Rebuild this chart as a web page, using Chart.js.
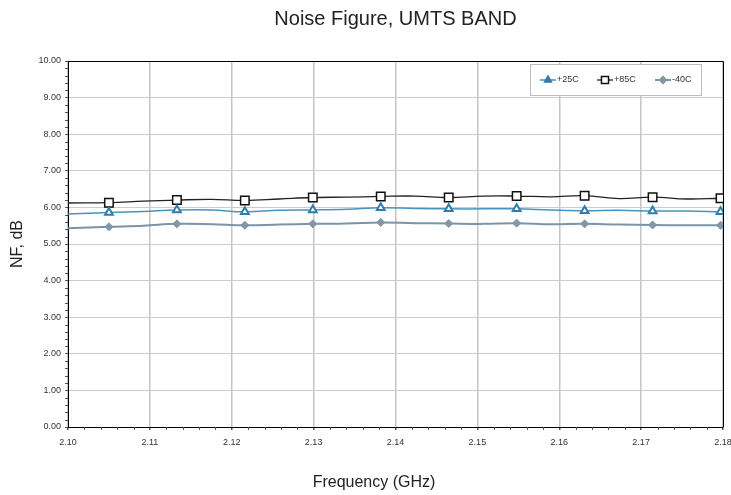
<!DOCTYPE html>
<html>
<head>
<meta charset="utf-8">
<title>Noise Figure, UMTS BAND</title>
<script src="https://cdn.jsdelivr.net/npm/chart.js@4.4.1/dist/chart.umd.min.js"></script>
<style>
  html, body { margin: 0; padding: 0; background: #fff; }
  #wrap { width: 731px; height: 495px; }
</style>
</head>
<body>
<div id="wrap"><canvas id="nfchart" width="731" height="495"></canvas></div>
<script>
// frequency points (GHz), markers sit on every odd index
var freq = [2.1000, 2.1050, 2.1092, 2.1133, 2.1175, 2.1216, 2.1258, 2.1299, 2.1341, 2.1382,
            2.1424, 2.1465, 2.1507, 2.1548, 2.1590, 2.1631, 2.1673, 2.1714, 2.1756, 2.1797, 2.1800];

var nf25 = [5.82, 5.86, 5.89, 5.93, 5.93, 5.88, 5.92, 5.93, 5.95, 5.99,
            5.97, 5.96, 5.96, 5.96, 5.93, 5.91, 5.92, 5.90, 5.90, 5.88, 5.88];
var nf85 = [6.12, 6.13, 6.17, 6.20, 6.22, 6.19, 6.23, 6.27, 6.28, 6.30,
            6.31, 6.27, 6.31, 6.31, 6.29, 6.32, 6.24, 6.28, 6.23, 6.25, 6.25];
var nfm40 = [5.43, 5.47, 5.50, 5.55, 5.54, 5.51, 5.53, 5.55, 5.56, 5.59,
             5.57, 5.56, 5.55, 5.57, 5.54, 5.55, 5.53, 5.52, 5.51, 5.51, 5.51];

var seriesNames = ["+25C", "+85C", "-40C"];
var xTicks = [2.10, 2.11, 2.12, 2.13, 2.14, 2.15, 2.16, 2.17, 2.18];
var yTicks = [0, 1, 2, 3, 4, 5, 6, 7, 8, 9, 10];

var FONT = "'Liberation Sans', Arial, Helvetica, sans-serif";

function toPoints(ys) {
    return ys.map(function(v, i) { return { x: freq[i], y: v }; });
}

function markerSize(r) {
    return function(c) { return c.dataIndex % 2 === 1 ? r : 0; };
}

// black frame on top/right, minor tick marks and the x axis title
var framePlugin = {
    id: "frame",
    afterDraw: function(chart) {
        var ctx = chart.ctx, a = chart.chartArea;
        var xs = chart.scales.x, ys = chart.scales.y;
        ctx.save();
        ctx.strokeStyle = "#000";
        ctx.lineWidth = 1;
        ctx.beginPath();
        ctx.moveTo(a.left, a.top + 0.5);
        ctx.lineTo(a.right + 0.5, a.top + 0.5);
        ctx.lineTo(a.right + 0.5, a.bottom);
        ctx.stroke();

        ctx.strokeStyle = "#555";
        ctx.beginPath();
        for (var k = 1; k < 40; k++) {
            if (k % 5 === 0) continue;
            var px = Math.round(xs.getPixelForValue(2.10 + k * 0.002)) + 0.5;
            ctx.moveTo(px, a.bottom);
            ctx.lineTo(px, a.bottom + 3);
        }
        for (var j = 1; j < 50; j++) {
            if (j % 5 === 0) continue;
            var py = Math.round(ys.getPixelForValue(j * 0.2)) + 0.5;
            ctx.moveTo(a.left - 3, py);
            ctx.lineTo(a.left, py);
        }
        ctx.stroke();

        ctx.fillStyle = "#222";
        ctx.font = "16px " + FONT;
        ctx.textAlign = "center";
        ctx.textBaseline = "middle";
        ctx.fillText("Frequency (GHz)", 374, 483);
        ctx.restore();
    }
};

// legend box inside the plot, top right
var legendPlugin = {
    id: "boxLegend",
    afterDraw: function(chart) {
        var ctx = chart.ctx;
        var bx = 530, by = 64, bw = 171, bh = 31;
        ctx.save();
        ctx.fillStyle = "#fff";
        ctx.fillRect(bx, by, bw, bh);
        ctx.strokeStyle = "#bdbdbd";
        ctx.lineWidth = 1;
        ctx.strokeRect(bx + 0.5, by + 0.5, bw, bh);

        var starts = [540, 597, 655];
        var cy = by + 16;
        chart.data.datasets.forEach(function(ds, i) {
            var x0 = starts[i];
            ctx.strokeStyle = ds.borderColor;
            ctx.lineWidth = ds.borderWidth;
            ctx.beginPath();
            ctx.moveTo(x0, cy);
            ctx.lineTo(x0 + 16, cy);
            ctx.stroke();
            ctx.fillStyle = ds.legendFill;
            ctx.strokeStyle = ds.pointBorderColor;
            ctx.lineWidth = ds.pointBorderWidth;
            Chart.helpers.drawPoint(ctx, {
                pointStyle: ds.pointStyle,
                radius: ds.legendRadius,
                rotation: 0,
                borderWidth: ds.pointBorderWidth
            }, x0 + 8, cy);
            ctx.fillStyle = "#333";
            ctx.font = "9px " + FONT;
            ctx.textBaseline = "middle";
            ctx.textAlign = "left";
            ctx.fillText(ds.label, x0 + 17, cy);
        });
        ctx.restore();
    }
};

var ctx = document.getElementById("nfchart").getContext("2d");

var config = {
    type: "line",
    data: {
        datasets: [
            {
                label: seriesNames[0],
                data: toPoints(nf25),
                borderColor: "#4a93bf",
                borderWidth: 1.5,
                pointStyle: "triangle",
                pointRadius: markerSize(4.5),
                legendRadius: 3.5,
                legendFill: "#2f7dab",
                pointBackgroundColor: "#fff",
                pointBorderColor: "#2f7dab",
                pointBorderWidth: 2,
                tension: 0.4
            },
            {
                label: seriesNames[1],
                data: toPoints(nf85),
                borderColor: "#222",
                borderWidth: 1.3,
                pointStyle: "rect",
                pointRadius: markerSize(6),
                legendRadius: 5,
                legendFill: "#fff",
                pointBackgroundColor: "#fff",
                pointBorderColor: "#111",
                pointBorderWidth: 1.5,
                tension: 0.4
            },
            {
                label: seriesNames[2],
                data: toPoints(nfm40),
                borderColor: "#7c94a8",
                borderWidth: 2,
                pointStyle: "rectRot",
                pointRadius: markerSize(4),
                legendRadius: 4,
                legendFill: "#8198ab",
                pointBackgroundColor: "#8198ab",
                pointBorderColor: "#7c94a8",
                pointBorderWidth: 1,
                tension: 0.4
            }
        ]
    },
    options: {
        responsive: false,
        animation: false,
        layout: { padding: { left: 8, right: 8, top: 0, bottom: 0 } },
        scales: {
            x: {
                type: "linear",
                min: 2.10,
                max: 2.18,
                afterBuildTicks: function(s) {
                    s.ticks = xTicks.map(function(v) { return { value: v }; });
                },
                afterFit: function(s) {
                    s.height = 68;
                    s.paddingLeft = 0;
                    s.paddingRight = 0;
                },
                ticks: {
                    color: "#333",
                    font: { family: FONT, size: 9 },
                    padding: 7,
                    maxRotation: 0,
                    autoSkip: false,
                    callback: function(v) { return Number(v).toFixed(2); }
                },
                grid: {
                    color: "#c4c4c4",
                    lineWidth: 1.5,
                    tickLength: 3,
                    tickColor: "#555"
                },
                border: { color: "#000", width: 1 },
                title: { display: false }
            },
            y: {
                min: 0,
                max: 10,
                afterBuildTicks: function(s) {
                    s.ticks = yTicks.map(function(v) { return { value: v }; });
                },
                afterFit: function(s) {
                    s.width = 60;
                    s.paddingTop = 0;
                    s.paddingBottom = 0;
                },
                ticks: {
                    color: "#333",
                    font: { family: FONT, size: 9 },
                    padding: 4,
                    callback: function(v) { return Number(v).toFixed(2); }
                },
                grid: {
                    color: "#cccccc",
                    lineWidth: 1,
                    tickLength: 3,
                    tickColor: "#555"
                },
                border: { color: "#000", width: 1 },
                title: {
                    display: true,
                    text: "NF, dB",
                    color: "#222",
                    font: { family: FONT, size: 16 },
                    padding: 0
                }
            }
        },
        plugins: {
            legend: { display: false },
            tooltip: { enabled: false },
            title: {
                display: true,
                fullSize: false,
                text: "Noise Figure, UMTS BAND",
                color: "#222",
                font: { family: FONT, size: 20, weight: "normal" },
                padding: { top: 7, bottom: 30 }
            }
        }
    },
    plugins: [framePlugin, legendPlugin]
};

var nfChart = new Chart(ctx, config);
</script>
</body>
</html>
